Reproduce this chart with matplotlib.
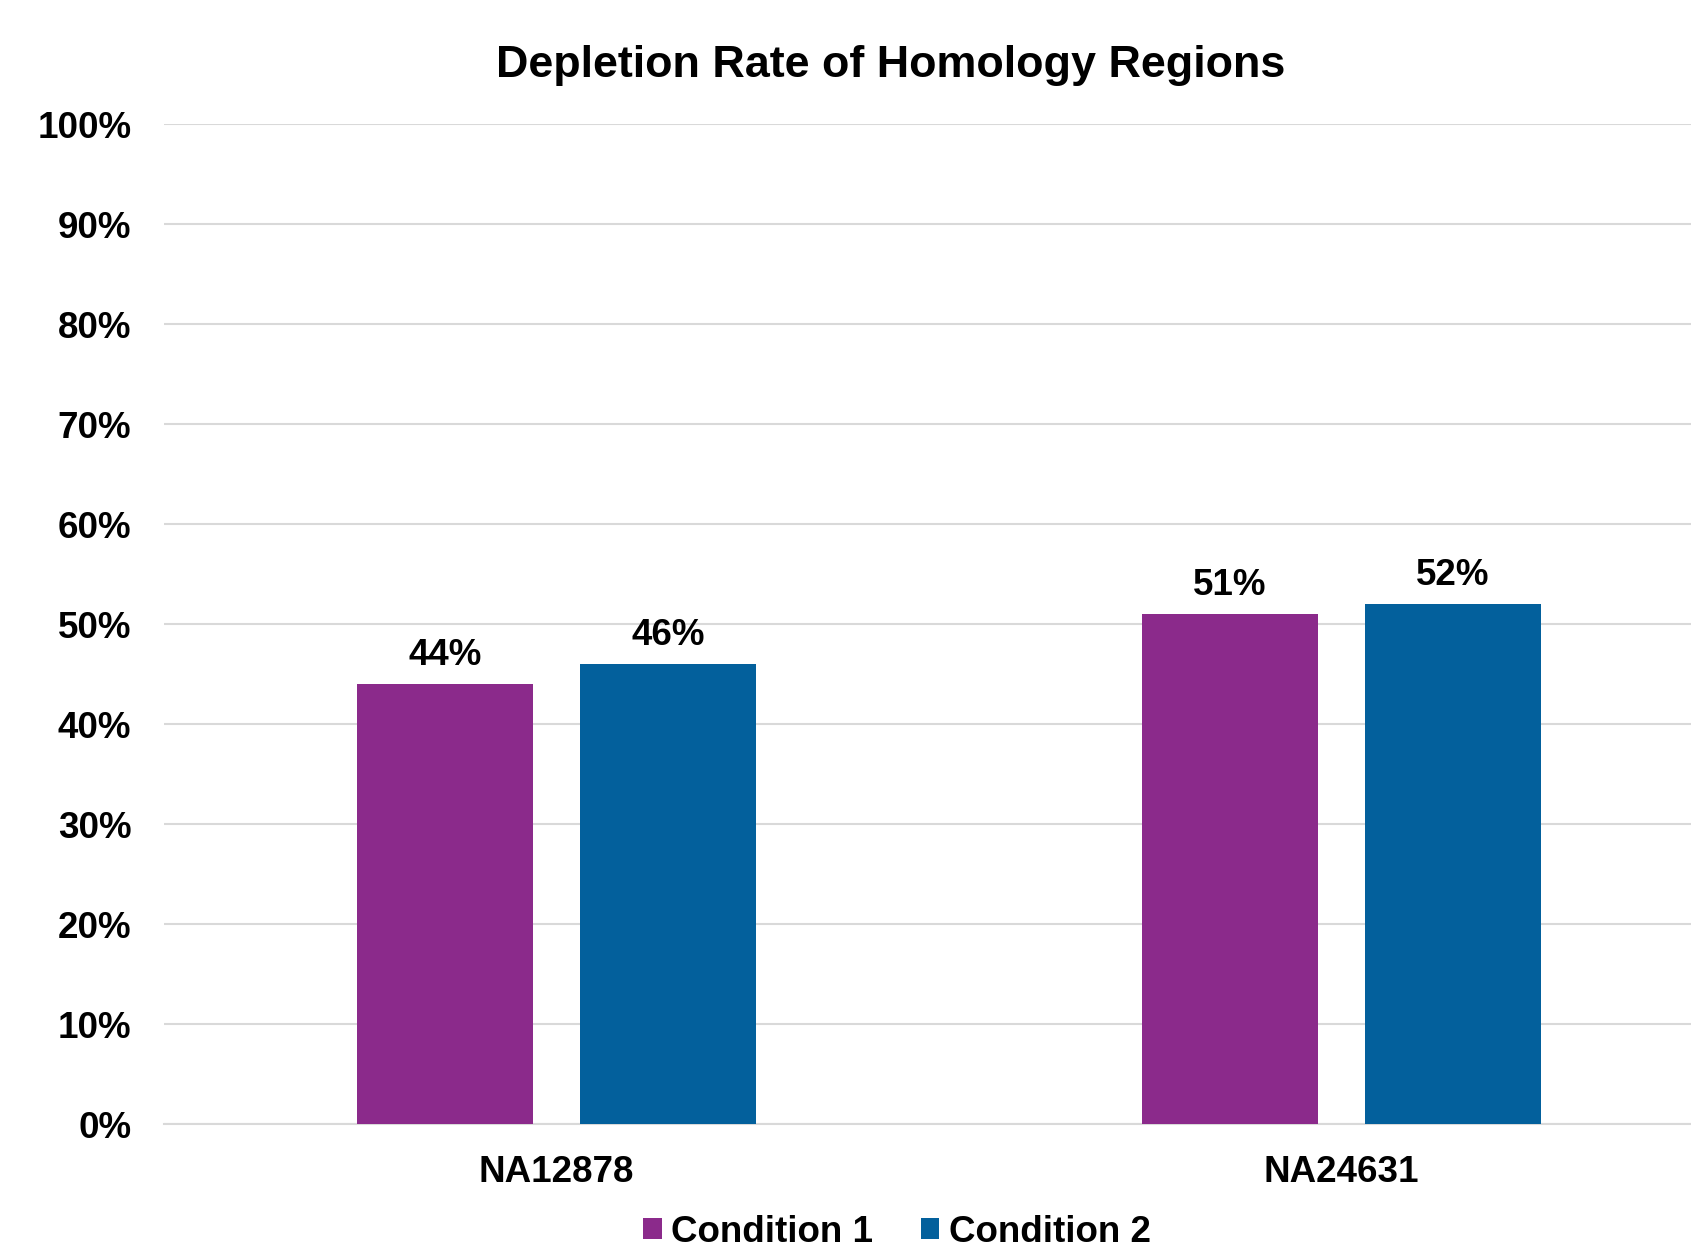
import matplotlib.pyplot as plt
import numpy as np

# Values
samples = ['NA12878', 'NA24631']
conditions = ['Condition 1', 'Condition 2']
condition1 = [44, 51]
condition2 = [46, 52]
colors = ['#8B2A8B', '#03609C']
yticks = list(range(0, 101, 10))

plt.rcParams['font.family'] = ['Liberation Sans', 'DejaVu Sans']
plt.rcParams['font.weight'] = 'bold'

W, H = 1691, 1248
fig = plt.figure(figsize=(W / 100, H / 100), dpi=100)
# plot area runs past the right edge, as in the reference
ax = fig.add_axes([164 / W, 1 - 1124 / H, 1570 / W, 1000 / H])

x = np.arange(len(samples))
width = 0.224
offset = 0.142
for i, (vals, name) in enumerate(zip([condition1, condition2], conditions)):
    pos = x + (offset if i else -offset)
    bars = ax.bar(pos, vals, width, color=colors[i], label=name, zorder=3)
    for b, v in zip(bars, vals):
        ax.annotate(f'{v}%', (b.get_x() + b.get_width() / 2, v),
                    xytext=(0, 7.8), textcoords='offset points',
                    ha='center', va='bottom', fontsize=26.5, fontweight='bold',
                    zorder=4)

ax.set_xlim(-0.5, 1.5)
ax.set_ylim(0, 100)
ax.set_yticks(yticks)
ax.set_yticklabels([f'{t}%' for t in yticks], fontsize=26.5, fontweight='bold')
ax.set_xticks(x)
ax.set_xticklabels(samples, fontsize=26.5, fontweight='bold')
ax.tick_params(axis='both', length=0)
ax.tick_params(axis='y', pad=23.5)
ax.tick_params(axis='x', pad=22)
ax.yaxis.grid(True, color='#d9d9d9', linewidth=1.5, zorder=0)
for s in ['top', 'right', 'left']:
    ax.spines[s].set_visible(False)
ax.spines['bottom'].set_color('#d9d9d9')
ax.spines['bottom'].set_linewidth(1.5)

fig.text(891 / W, 1 - 65 / H, 'Depletion Rate of Homology Regions',
         ha='center', va='center', fontsize=32.3, fontweight='bold')

fig.legend(loc='center', bbox_to_anchor=(897 / W, 1 - 1232 / H), ncol=2,
           frameon=False, fontsize=26.5, handlelength=0.5, handleheight=0.5,
           handletextpad=0.25, columnspacing=1.3, borderpad=0.1)

plt.savefig('out.png', dpi=100)
